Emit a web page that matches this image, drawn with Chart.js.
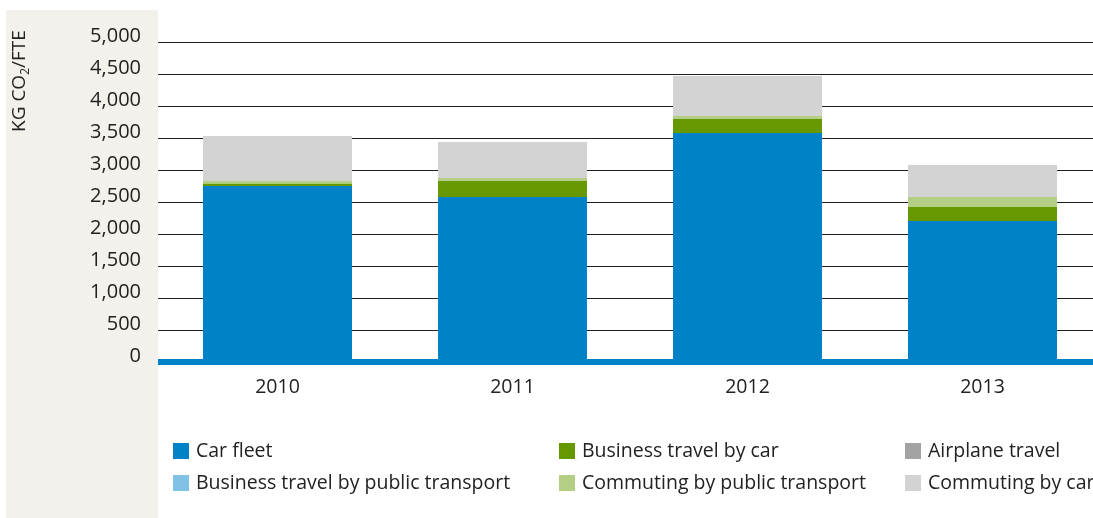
<!DOCTYPE html>
<html>
<head>
<meta charset="utf-8">
<script src="https://cdn.jsdelivr.net/npm/chart.js@4/dist/chart.umd.min.js"></script>
<style>
html,body{margin:0;padding:0;background:#fff;overflow:hidden;}
#wrap{position:relative;width:1100px;height:518px;}
</style>
</head>
<body>
<div id="wrap"><canvas id="c"></canvas></div>
<script>
const categories = ['2010', '2011', '2012', '2013'];
const carFleet = [2750, 2578, 3578, 2203];
const businessByCar = [36, 250, 219, 219];
const airplaneTravel = [0, 0, 0, 0];
const businessByPublic = [0, 0, 0, 0];
const commutingByPublic = [42, 47, 47, 156];
const commutingByCar = [703, 562, 625, 500];
const seriesNames = ['Car fleet', 'Business travel by car', 'Airplane travel',
  'Business travel by public transport', 'Commuting by public transport', 'Commuting by car'];
const seriesColors = ['#0082c8', '#669900', '#a3a3a3', '#80c1e5', '#b5ce86', '#d3d3d3'];
const yTicks = [0, 500, 1000, 1500, 2000, 2500, 3000, 3500, 4000, 4500, 5000];

const FONT = '"Open Sans", sans-serif';
const TEXT = '#222222';

const seriesValues = [carFleet, businessByCar, airplaneTravel, businessByPublic, commutingByPublic, commutingByCar];

const bgPlugin = {
  id: 'bgPanel',
  beforeDraw(chart) {
    const ctx = chart.ctx;
    ctx.save();
    ctx.fillStyle = '#f2f1eb';
    ctx.fillRect(6, 10, 152, 508);
    ctx.restore();
  }
};

const gridPlugin = {
  id: 'gridLines',
  beforeDatasetsDraw(chart) {
    const ctx = chart.ctx;
    const y = chart.scales.y;
    ctx.save();
    ctx.strokeStyle = '#1e1e1e';
    ctx.lineWidth = 1;
    yTicks.forEach(v => {
      if (v === 0) return;
      const py = Math.round(y.getPixelForValue(v)) + 0.5;
      ctx.beginPath();
      ctx.moveTo(158, py);
      ctx.lineTo(chart.width, py);
      ctx.stroke();
    });
    const p0 = y.getPixelForValue(0);
    ctx.strokeStyle = '#0082c8';
    ctx.lineWidth = 6;
    ctx.beginPath();
    ctx.moveTo(158, p0);
    ctx.lineTo(chart.width, p0);
    ctx.stroke();
    ctx.restore();
  }
};

const titlePlugin = {
  id: 'yTitle',
  afterDraw(chart) {
    const ctx = chart.ctx;
    ctx.save();
    ctx.translate(25, 132);
    ctx.rotate(-Math.PI / 2);
    ctx.fillStyle = TEXT;
    ctx.textBaseline = 'alphabetic';
    ctx.textAlign = 'left';
    ctx.font = '19px ' + FONT;
    let x = 0;
    ctx.fillText('KG CO', x, 0);
    x += ctx.measureText('KG CO').width;
    ctx.font = '12px ' + FONT;
    ctx.fillText('2', x, 4);
    x += ctx.measureText('2').width;
    ctx.font = '19px ' + FONT;
    ctx.fillText('/FTE', x, 0);
    ctx.restore();
  }
};

const legendPlugin = {
  id: 'customLegend',
  afterDraw(chart) {
    const ctx = chart.ctx;
    const cols = [173, 559, 905];
    const rows = [443, 475];
    ctx.save();
    ctx.font = '19.5px ' + FONT;
    ctx.textBaseline = 'middle';
    ctx.textAlign = 'left';
    chart.data.datasets.forEach((ds, i) => {
      const cx = cols[i % 3];
      const cy = rows[Math.floor(i / 3)];
      ctx.fillStyle = ds.backgroundColor;
      ctx.fillRect(cx, cy, 16, 16);
      ctx.fillStyle = TEXT;
      ctx.fillText(ds.label, cx + 23, cy + 8);
    });
    ctx.restore();
  }
};

new Chart(document.getElementById('c'), {
  type: 'bar',
  data: {
    labels: categories,
    datasets: seriesNames.map((name, i) => ({
      label: name,
      data: seriesValues[i],
      backgroundColor: seriesColors[i],
      borderWidth: 0,
      barPercentage: 0.634,
      categoryPercentage: 1
    }))
  },
  options: {
    responsive: true,
    maintainAspectRatio: false,
    animation: false,
    layout: { padding: { top: 42, right: 0, left: 0, bottom: 0 } },
    plugins: { legend: { display: false }, tooltip: { enabled: false } },
    scales: {
      x: {
        stacked: true,
        grid: { display: false, drawTicks: false },
        border: { display: false },
        ticks: { color: TEXT, font: { family: FONT, size: 19.5 }, padding: 14 },
        afterFit(scale) { scale.height = 156; }
      },
      y: {
        stacked: true,
        min: 0,
        max: 5000,
        afterBuildTicks(scale) { scale.ticks = yTicks.map(v => ({ value: v })); },
        grid: { display: false, drawTicks: false },
        border: { display: false },
        ticks: {
          color: TEXT,
          font: { family: FONT, size: 20 },
          padding: 19,
          labelOffset: -6,
          callback: v => v.toLocaleString('en-US')
        },
        afterFit(scale) { scale.width = 160; }
      }
    }
  },
  plugins: [bgPlugin, gridPlugin, titlePlugin, legendPlugin]
});
</script>
</body>
</html>
